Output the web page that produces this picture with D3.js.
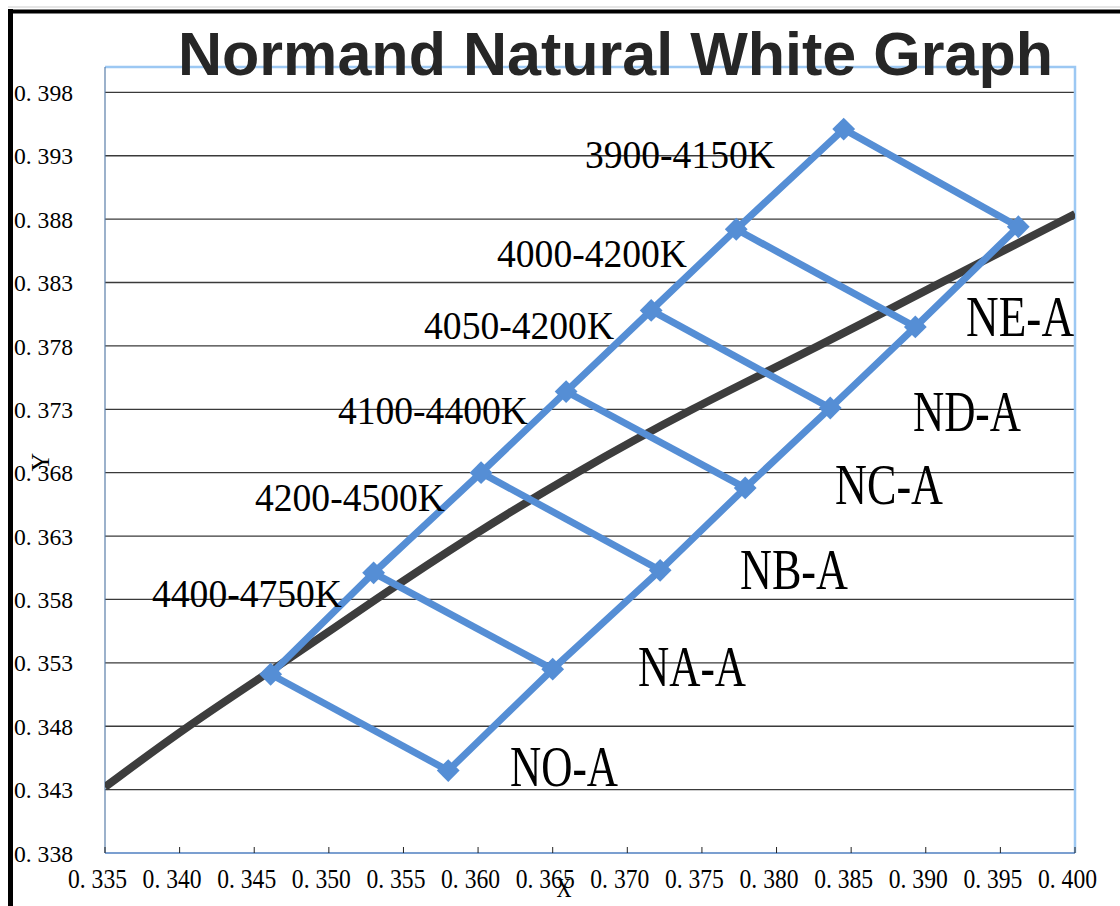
<!DOCTYPE html>
<html>
<head>
<meta charset="utf-8">
<script src="https://cdn.jsdelivr.net/npm/d3@7/dist/d3.min.js"></script>
<style>
  body { margin: 0; background: #fff; }
  text { font-family: "Liberation Serif", "DejaVu Serif", serif; }
</style>
</head>
<body>
<svg id="chart" width="1120" height="906"></svg>
<script>
// 軸の目盛り
const xTicks = [0.335, 0.340, 0.345, 0.350, 0.355, 0.360, 0.365, 0.370, 0.375, 0.380, 0.385, 0.390, 0.395, 0.400];
const yTicks = [0.338, 0.343, 0.348, 0.353, 0.358, 0.363, 0.368, 0.373, 0.378, 0.383, 0.388, 0.393, 0.398];

// 黒い曲線（黒体軌跡）
const locusX = [0.3350, 0.3406, 0.3471, 0.3531, 0.3595, 0.3665, 0.3742, 0.3829, 0.3910, 0.4000];
const locusY = [0.3432, 0.3481, 0.3531, 0.3580, 0.3630, 0.3680, 0.3730, 0.3780, 0.3830, 0.3884];

// 四角形の頂点（左上側の辺、右下側の辺）
const leftX = [0.3461, 0.3530, 0.3602, 0.3659, 0.3716, 0.3773, 0.3845];
const leftY = [0.3521, 0.3601, 0.3680, 0.3744, 0.3808, 0.3872, 0.3951];
const rightX = [0.3580, 0.3650, 0.3722, 0.3779, 0.3836, 0.3893, 0.3962];
const rightY = [0.3445, 0.3525, 0.3603, 0.3668, 0.3731, 0.3795, 0.3874];

// 色温度ラベル
const cctLabels = ["4400-4750K", "4200-4500K", "4100-4400K", "4050-4200K", "4000-4200K", "3900-4150K"];
const cctX = [0.33815, 0.34505, 0.35061, 0.35638, 0.36127, 0.36716];
const cctY = [0.35737, 0.36496, 0.37183, 0.37855, 0.38424, 0.39207];

// ランク名ラベル
const binLabels = ["NO-A", "NA-A", "NB-A", "NC-A", "ND-A", "NE-A"];
const binX = [0.36214, 0.37072, 0.37755, 0.38392, 0.38914, 0.39270];
const binY = [0.34330, 0.35120, 0.35879, 0.36551, 0.37128, 0.37879];

const svg = d3.select("#chart");
const margin = { left: 105, right: 45, top: 67, bottom: 53 };
const W = 1120, H = 906;

const x = d3.scaleLinear().domain([0.335, 0.400]).range([margin.left, W - margin.right]);
const y = d3.scaleLinear().domain([0.338, 0.400]).range([H - margin.bottom, margin.top]);

const fmt = (v) => d3.format(".3f")(v).replace(".", ". ");

// 外枠
svg.append("line").attr("x1", 8).attr("x2", W).attr("y1", 7).attr("y2", 7)
  .attr("stroke", "#ccc").attr("stroke-width", 1);
svg.append("line").attr("x1", 8).attr("x2", W).attr("y1", 11.5).attr("y2", 11.5)
  .attr("stroke", "#000").attr("stroke-width", 4);
svg.append("line").attr("x1", 10.5).attr("x2", 10.5).attr("y1", 9).attr("y2", H)
  .attr("stroke", "#000").attr("stroke-width", 5);

// 横グリッド線
svg.append("g")
  .selectAll("line")
  .data(yTicks.slice(1))
  .enter()
  .append("line")
  .attr("x1", x(0.335)).attr("x2", x(0.400))
  .attr("y1", (d) => y(d)).attr("y2", (d) => y(d))
  .attr("stroke", "#3a3a3a").attr("stroke-width", 1.3);

// プロット枠（上・右）
svg.append("path")
  .attr("d", `M${x(0.335)},${y(0.400)}H${x(0.400)}V${y(0.338)}`)
  .attr("fill", "none").attr("stroke", "#9cc8f3").attr("stroke-width", 2.5);

// Y軸
svg.append("line").attr("x1", x(0.335)).attr("x2", x(0.335)).attr("y1", y(0.400)).attr("y2", y(0.338))
  .attr("stroke", "#5a7ea8").attr("stroke-width", 1.2);
svg.append("g")
  .selectAll("text")
  .data(yTicks)
  .enter()
  .append("text")
  .attr("x", 14).attr("y", (d) => y(d)).attr("dy", "0.36em")
  .attr("font-size", 24)
  .attr("textLength", 59).attr("lengthAdjust", "spacingAndGlyphs")
  .text(fmt);

// X軸
svg.append("line").attr("x1", x(0.335)).attr("x2", x(0.400)).attr("y1", y(0.338)).attr("y2", y(0.338))
  .attr("stroke", "#4f7fc0").attr("stroke-width", 1.5);
svg.append("g")
  .selectAll("line")
  .data(xTicks)
  .enter()
  .append("line")
  .attr("x1", (d) => x(d)).attr("x2", (d) => x(d))
  .attr("y1", y(0.338)).attr("y2", y(0.338) - 6)
  .attr("stroke", "#222").attr("stroke-width", 1);
svg.append("g")
  .selectAll("text")
  .data(xTicks)
  .enter()
  .append("text")
  .attr("x", (d) => x(d) - 37).attr("y", 888)
  .attr("font-size", 28)
  .attr("textLength", 59).attr("lengthAdjust", "spacingAndGlyphs")
  .text(fmt);

// 軸タイトル
svg.append("text").attr("x", 564).attr("y", 897).attr("text-anchor", "middle")
  .attr("font-size", 28).attr("textLength", 15).attr("lengthAdjust", "spacingAndGlyphs").text("X");
svg.append("text").attr("transform", "translate(49,462) rotate(-90)").attr("text-anchor", "middle")
  .attr("font-size", 26).text("Y");

// 曲線
const plot = svg.append("g");
svg.append("clipPath").attr("id", "clip").append("rect")
  .attr("x", x(0.335)).attr("y", y(0.400)).attr("width", x(0.400) - x(0.335)).attr("height", y(0.338) - y(0.400));
const locus = locusX.map((v, i) => [v, locusY[i]]);
plot.append("path")
  .datum(locus)
  .attr("clip-path", "url(#clip)")
  .attr("fill", "none")
  .attr("stroke", "#3d3d3d")
  .attr("stroke-width", 8)
  .attr("d", d3.line().x((d) => x(d[0])).y((d) => y(d[1])).curve(d3.curveBasis));

// 青い四角形
const blue = "#558ed5";
const leftPts = leftX.map((v, i) => [v, leftY[i]]);
const rightPts = rightX.map((v, i) => [v, rightY[i]]);
const line = d3.line().x((d) => x(d[0])).y((d) => y(d[1]));
[leftPts, rightPts].forEach((pts) => {
  plot.append("path").datum(pts).attr("fill", "none").attr("stroke", blue)
    .attr("stroke-width", 7).attr("stroke-linejoin", "round").attr("d", line);
});
plot.selectAll(".rung")
  .data(leftPts.map((p, i) => [p, rightPts[i]]))
  .enter()
  .append("path")
  .attr("class", "rung")
  .attr("fill", "none").attr("stroke", blue).attr("stroke-width", 7)
  .attr("d", line);

// マーカー
const marker = d3.symbol().type(d3.symbolSquare).size(260);
plot.selectAll(".marker")
  .data(leftPts.concat(rightPts))
  .enter()
  .append("path")
  .attr("class", "marker")
  .attr("fill", blue)
  .attr("transform", (d) => `translate(${x(d[0])},${y(d[1])}) rotate(45)`)
  .attr("d", marker);

// ラベル
svg.append("g")
  .selectAll("text")
  .data(cctLabels)
  .enter()
  .append("text")
  .attr("x", (d, i) => x(cctX[i])).attr("y", (d, i) => y(cctY[i]))
  .attr("font-size", 40)
  .attr("textLength", 190).attr("lengthAdjust", "spacingAndGlyphs")
  .text((d) => d);

svg.append("g")
  .selectAll("text")
  .data(binLabels)
  .enter()
  .append("text")
  .attr("x", (d, i) => x(binX[i])).attr("y", (d, i) => y(binY[i]))
  .attr("font-size", 56)
  .attr("textLength", 108).attr("lengthAdjust", "spacingAndGlyphs")
  .text((d) => d);

// タイトル
svg.append("text")
  .attr("x", 178).attr("y", 75)
  .style("font-family", "'Liberation Sans', Arial, sans-serif")
  .attr("font-weight", "bold")
  .attr("font-size", 62)
  .attr("fill", "#262626")
  .attr("textLength", 875).attr("lengthAdjust", "spacingAndGlyphs")
  .text("Normand Natural White Graph");
</script>
</body>
</html>
